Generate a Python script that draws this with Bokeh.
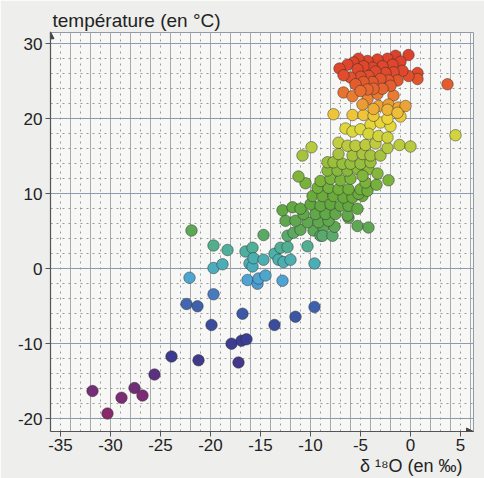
import numpy as np
from bokeh.plotting import figure
from bokeh.models import (ColumnDataSource, LinearColorMapper, Range1d, FixedTicker,
                          Grid, Title, Arrow, NormalHead)
from bokeh.embed import file_html
from bokeh.resources import INLINE

# ---------------- data ----------------
x_ticks = [-35, -30, -25, -20, -15, -10, -5, 0, 5]
x_tick_labels = ["-35", "-30", "-25", "-20", "-15", "-10", "-5", "0", "5"]
y_ticks = [-20, -10, 0, 10, 20, 30]
y_tick_labels = ["-20", "-10", "0", "10", "20", "30"]
x_title = "δ \u00b9\u2078O (en ‰)"
y_title = "température (en °C)"

low_x = [-31.8, -30.3, -28.9, -27.6, -26.8, -25.6, -23.9, -21.2, -19.9, -17.9, -16.9, -16.4,
         -17.2, -16.8, -13.6, -11.5, -9.6, -22.4, -21.3, -19.7]
low_y = [-16.3, -19.3, -17.2, -15.9, -16.9, -14.1, -11.7, -12.2, -7.5, -10.0, -9.6, -9.4,
         -12.5, -6.0, -7.5, -6.4, -5.1, -4.7, -5.0, -3.4]

cold_x = [-22.1, -16.3, -15.3, -15.2, -14.5, -12.8,
          -19.7, -18.3, -16.5, -15.8, -19.7, -18.8, -16.1, -15.8, -15.7, -14.7, -13.6, -13.0,
          -12.3, -13.2, -12.7, -12.0, -10.3, -9.6, -21.9, -14.7]
cold_y = [-1.2, -1.5, -2.0, -1.3, -0.9, -1.6,
          3.1, 2.5, 2.3, 2.8, 0.1, 0.6, 0.7, 0.3, 1.4, 1.2, 2.0, 2.8,
          2.9, 1.2, 0.9, 1.2, 3.0, 0.7, 5.1, 4.5]

green_x = [-12.3, -11.7, -11.0, -9.7, -9.0, -8.7, -8.8, -7.8, -7.6, -5.3, -4.2,
           -12.5, -11.5, -10.3, -9.2, -8.2, -6.2,
           -10.7, -9.5, -8.5, -7.5, -6.3,
           -12.8, -11.8, -11.0, -10.0, -9.0, -8.0, -7.0, -6.2, -5.3,
           -9.8, -8.8, -7.7, -6.7, -5.8, -4.8, -5.2,
           -9.3, -8.2, -7.2, -6.2, -5.0, -4.3,
           -10.5, -9.0, -8.0, -7.0, -6.0, -4.5, -3.4, -2.2,
           -11.2, -8.3, -7.3, -6.3, -5.3, -4.2, -3.3, -4.8,
           -8.3, -7.7, -6.8, -6.0, -5.0, -4.0,
           -10.8, -7.2, -5.8, -4.8, -4.0, -3.0,
           -9.9, -7.2, -6.3, -5.5, -4.5, -3.5, -2.3, -1.1, 0.0]
green_y = [4.4, 4.8, 5.2, 5.1, 4.4, 5.5, 4.4, 4.4, 5.6, 5.7, 5.5,
           6.4, 6.4, 6.2, 6.2, 6.4, 6.8,
           7.3, 7.3, 7.3, 7.3, 7.1,
           7.8, 8.2, 8.0, 8.6, 8.4, 8.6, 8.4, 8.4, 8.0,
           9.7, 9.7, 9.7, 9.5, 9.5, 9.7, 10.0,
           10.8, 10.8, 10.6, 10.6, 10.6, 10.4,
           11.4, 11.7, 12.0, 11.8, 12.0, 11.5, 11.2, 11.8,
           12.3, 13.1, 13.1, 13.1, 13.3, 13.3, 12.7, 12.4,
           14.2, 14.2, 14.0, 14.0, 14.0, 14.2,
           15.1, 15.3, 15.1, 15.3, 15.1, 15.1,
           16.2, 16.8, 16.4, 16.4, 16.5, 16.7, 16.1, 16.5, 16.3]

warm_x = [-6.5, -5.8, -5.0, -4.0, -3.0, -2.0, -4.2, -3.2, -2.3, 4.5,
          -7.7, -5.8, -4.7, -3.7, -2.3, -1.0,
          -6.7, -5.8, -3.3, -1.7, -4.3, -4.8, -3.2, -2.2, -1.2, -0.5, -3.7, -2.3, -1.3]
warm_y = [18.7, 18.3, 18.6, 19.2, 19.5, 19.0, 18.0, 17.7, 17.5, 17.8,
          20.6, 20.5, 20.5, 20.4, 20.0, 20.3,
          23.5, 23.0, 23.3, 23.1, 22.6, 21.9, 21.7, 21.9, 21.5, 21.7, 21.3, 21.2, 20.8]

hot_x = [-0.2, -1.5, -2.3, -3.3, -4.3, -5.2, -5.7, -6.3, -7.1, -1.0, -1.8, -2.8, -3.8,
         -4.7, -5.3, 0.7, 0.7, -0.2, -0.8, -1.7, -2.5, -3.5, -4.2, -5.0, -6.0, -6.7,
         -1.3, -2.2, -3.0, -3.8, -4.7, -5.5, 3.7, -2.0, -2.8, -3.7, -4.3, -5.0]
hot_y = [28.5, 28.4, 28.0, 27.9, 27.7, 28.0, 27.5, 27.2, 26.7, 27.6, 27.2, 27.0, 26.8,
         27.0, 26.6, 26.1, 25.3, 25.7, 26.4, 26.2, 26.1, 26.3, 25.7, 25.6, 25.5, 25.8,
         25.1, 25.1, 25.3, 24.9, 24.9, 24.6, 24.6, 24.4, 24.0, 24.0, 23.9, 23.7]

d18o = low_x + cold_x + green_x + warm_x + hot_x
temp = low_y + cold_y + green_y + warm_y + hot_y

# ---------------- colour scale (style) ----------------
anchors = [(-20, "#8a2a66"), (-17, "#7a2c74"), (-14, "#5a3282"), (-12, "#3c3a8c"),
           (-9, "#3a4094"), (-7, "#3c509f"), (-5, "#3f62ad"), (-3, "#4a84c4"),
           (-1.5, "#4ea4d4"), (0, "#4aacbc"), (2, "#4cb0a8"), (3.5, "#55ad84"),
           (5, "#5da858"), (9, "#64a83c"), (13, "#86b83c"), (16, "#b4c83e"),
           (18.5, "#dcd83c"), (20, "#ecd43a"), (21, "#efb838"), (22.5, "#eb8c34"),
           (24, "#e6662f"), (26, "#e04a2c"), (30, "#dc3c2a")]
av = np.array([a[0] for a in anchors], dtype=float)
ac = np.array([[int(a[1][i:i + 2], 16) for i in (1, 3, 5)] for a in anchors], dtype=float)
vals = np.linspace(-20, 30, 256)
palette = []
for v in vals:
    rgb = [int(round(np.interp(v, av, ac[:, k]))) for k in range(3)]
    palette.append("#%02x%02x%02x" % tuple(rgb))
mapper = LinearColorMapper(palette=palette, low=-20, high=30)

src = ColumnDataSource(dict(x=d18o, y=temp))

p = figure(width=484, height=478, x_range=Range1d(-36, 6.3), y_range=Range1d(-21.7, 31.5),
           output_backend="svg", toolbar_location=None,
           min_border_left=50, min_border_right=11, min_border_top=32, min_border_bottom=47,
           background_fill_color="#f7f7f5", border_fill_color="#eeeeec")
p.title.visible = False
p.outline_line_color = "#8f9aad"
p.outline_line_width = 1

FONT = "Liberation Sans"
for ax in (p.xaxis[0], p.yaxis[0]):
    ax.major_label_text_font = FONT
    ax.major_label_text_font_size = "17px"
    ax.major_label_text_color = "#222222"
    ax.axis_line_color = "#555555"
    ax.axis_line_width = 1.2
    ax.major_tick_line_color = "#555555"
    ax.major_tick_in = 0
    ax.major_tick_out = 5
    ax.minor_tick_line_color = None
p.xaxis.ticker = FixedTicker(ticks=x_ticks)
p.yaxis.ticker = FixedTicker(ticks=y_ticks)
p.xaxis.major_label_overrides = dict(zip(x_ticks, x_tick_labels))
p.yaxis.major_label_overrides = dict(zip(y_ticks, y_tick_labels))
p.xaxis.major_label_standoff = 2
p.yaxis.major_label_standoff = 3

# grid
xs_even = [v for v in range(-36, 7) if v % 2 == 0]
xs_odd = [v for v in range(-36, 7) if v % 2 != 0]
ys_major = [-20, -10, 0, 10, 20, 30]
ys_minor = [v for v in range(-20, 32, 2) if v % 10 != 0]
p.xgrid.ticker = FixedTicker(ticks=xs_even)
p.xgrid.grid_line_color = "#a9a9a9"
p.xgrid.grid_line_width = 1
p.ygrid.ticker = FixedTicker(ticks=ys_major)
p.ygrid.grid_line_color = "#8e9ab0"
p.ygrid.grid_line_width = 1
p.add_layout(Grid(dimension=0, ticker=FixedTicker(ticks=xs_odd), grid_line_color="#9a9a9a",
                  grid_line_dash="dotted", grid_line_width=1))
p.add_layout(Grid(dimension=1, ticker=FixedTicker(ticks=ys_minor), grid_line_color="#9a9a9a",
                  grid_line_dash="dotted", grid_line_width=1))

p.scatter(x="x", y="y", source=src, size=11.5,
          fill_color={"field": "y", "transform": mapper},
          line_color="#2a2a2a", line_alpha=0.6, line_width=0.8)

# axis arrows
p.add_layout(Arrow(end=NormalHead(size=7, fill_color="#444444", line_color="#444444"),
                   x_start=5.6, y_start=-21.7, x_end=6.3, y_end=-21.7,
                   line_color="#555555", line_width=1.2))
p.add_layout(Arrow(end=NormalHead(size=7, fill_color="#444444", line_color="#444444"),
                   x_start=-36, y_start=30.5, x_end=-36, y_end=31.6,
                   line_color="#555555", line_width=1.2))

p.add_layout(Title(text=y_title, align="left", text_font=FONT, text_font_size="19px",
                   text_font_style="normal", text_color="#222222", standoff=3, offset=2),
             "above")
p.add_layout(Title(text=x_title, align="right", text_font=FONT, text_font_size="18px",
                   text_font_style="normal", text_color="#222222", standoff=0, offset=11),
             "below")

open("out.html", "w").write(file_html(p, INLINE))
